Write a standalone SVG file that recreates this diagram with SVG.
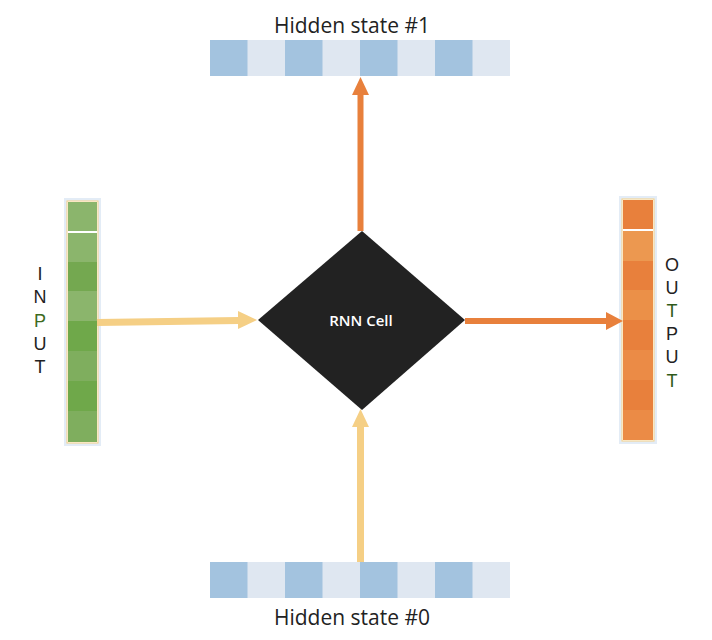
<svg xmlns="http://www.w3.org/2000/svg" width="712" height="640" viewBox="0 0 712 640">
<style>
.lbl{font-family:"Open Sans","Liberation Sans",sans-serif;font-size:21px;fill:#222;}
.vl{font-family:"Liberation Sans",Arial,sans-serif;font-size:18px;fill:#222;text-anchor:middle;}
.hd{fill:#a3c3df;}
.hl{fill:#dfe7f1;}
.gd{fill:#6fa84a;}
.gl{fill:#8bb56c;}
.od{fill:#e8803c;}
.ol{fill:#eb8b46;}
</style>
<rect width="712" height="640" fill="#fff"/>

<g id="hidden1">
<rect x="210" y="40" width="300" height="36" class="hl"/>
<rect x="210" y="40" width="37.5" height="36" class="hd"/>
<rect x="285" y="40" width="37.5" height="36" class="hd"/>
<rect x="360" y="40" width="37.5" height="36" class="hd"/>
<rect x="435" y="40" width="37.5" height="36" class="hd"/>
<text x="352" y="33" class="lbl" text-anchor="middle">Hidden state #1</text>
</g>

<g id="hidden0">
<rect x="210" y="562" width="300" height="36" class="hl"/>
<rect x="210" y="562" width="37.5" height="36" class="hd"/>
<rect x="285" y="562" width="37.5" height="36" class="hd"/>
<rect x="360" y="562" width="37.5" height="36" class="hd"/>
<rect x="435" y="562" width="37.5" height="36" class="hd"/>
<text x="352" y="625" class="lbl" text-anchor="middle">Hidden state #0</text>
</g>

<g id="input">
<rect x="65.5" y="199.5" width="34" height="245" fill="none" stroke="#e3ecf6" stroke-width="3"/>
<rect x="67" y="201" width="31" height="242" fill="#fff" stroke="#f5cf85" stroke-width="1"/>
<rect x="68" y="202" width="29" height="29" class="gl"/>
<rect x="68" y="233" width="29" height="29" class="gl"/>
<rect x="68" y="262" width="29" height="29" fill="#74a850"/>
<rect x="68" y="291" width="29" height="30" class="gl"/>
<rect x="68" y="321" width="29" height="30" class="gd"/>
<rect x="68" y="351" width="29" height="30" fill="#7fae5e"/>
<rect x="68" y="381" width="29" height="30" class="gd"/>
<rect x="68" y="411" width="29" height="31" fill="#7fae5e"/>
<text x="40" y="280" class="vl">I</text>
<text x="40" y="303" class="vl">N</text>
<text x="40" y="327" class="vl" style="fill:#3d6b1e">P</text>
<text x="40" y="350" class="vl">U</text>
<text x="40" y="373" class="vl">T</text>
</g>

<g id="output">
<rect x="620.5" y="197.5" width="35" height="245" fill="none" stroke="#e3ecf6" stroke-width="3"/>
<rect x="622" y="199" width="32" height="242" fill="#fff" stroke="#f5cf85" stroke-width="1"/>
<rect x="623" y="200" width="30" height="29" class="od"/>
<rect x="623" y="231" width="30" height="30" fill="#ec9850"/>
<rect x="623" y="261" width="30" height="29" class="od"/>
<rect x="623" y="290" width="30" height="30" fill="#eb9048"/>
<rect x="623" y="320" width="30" height="30" class="od"/>
<rect x="623" y="350" width="30" height="30" class="ol"/>
<rect x="623" y="380" width="30" height="30" class="od"/>
<rect x="623" y="410" width="30" height="30" class="ol"/>
<text x="672" y="271" class="vl">O</text>
<text x="672" y="294" class="vl">U</text>
<text x="672" y="317" class="vl" style="fill:#2f5a1a">T</text>
<text x="672" y="340" class="vl">P</text>
<text x="672" y="363" class="vl">U</text>
<text x="672" y="387" class="vl" style="fill:#2f5a1a">T</text>
</g>

<g id="connectors">
<path d="M97,322.5 L239,320.5" stroke="#f5cf85" stroke-width="7" fill="none"/>
<path d="M238,311 L257,320 L238,329 z" fill="#f5cf85"/>
<path d="M360.5,562 L360.5,426" stroke="#f5cf85" stroke-width="7" fill="none"/>
<path d="M352,427 L360.5,409 L369,427 z" fill="#f5cf85"/>
<path d="M360.5,231 L360.5,94" stroke="#e8803c" stroke-width="6" fill="none"/>
<path d="M352,95 L360.5,77 L369,95 z" fill="#e8803c"/>
<path d="M465,321 L607,321" stroke="#e8803c" stroke-width="6" fill="none"/>
<path d="M606,312 L623,321 L606,330 z" fill="#e8803c"/>
</g>

<g id="rnn">
<path d="M362,231 L465,320 L362,410 L258,320 z" fill="#222"/>
<text x="361" y="326" font-family="'Open Sans','Liberation Sans',sans-serif" font-size="15" font-weight="600" fill="#fff" text-anchor="middle">RNN Cell</text>
</g>
</svg>
